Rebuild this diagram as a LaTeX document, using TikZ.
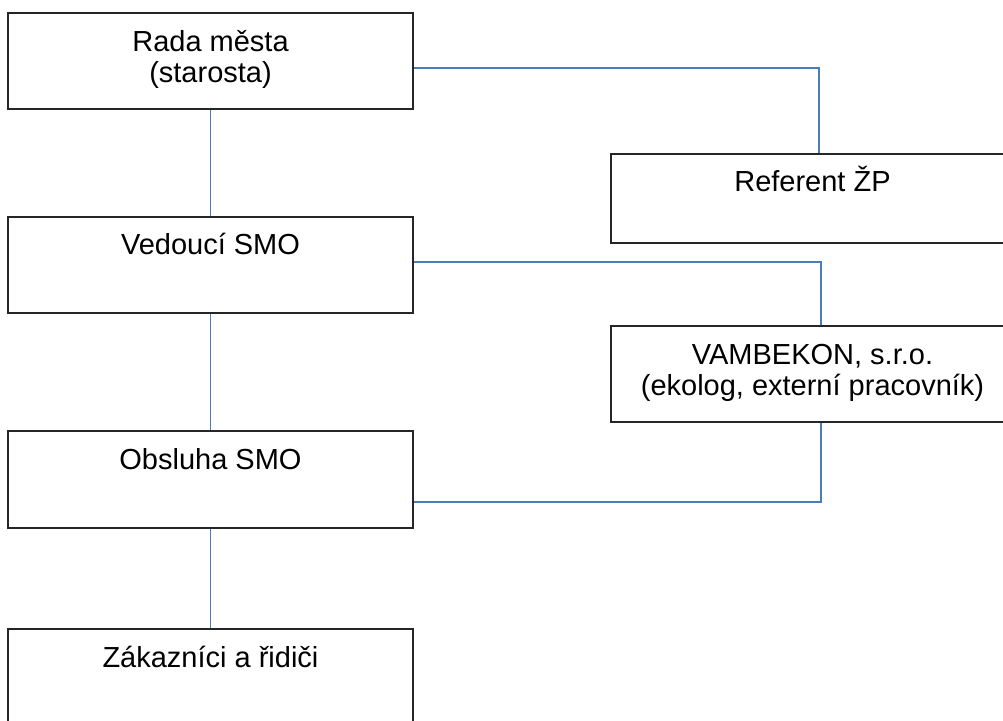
\documentclass[tikz,border=0pt]{standalone}
\usepackage{fontspec}
\setmainfont{Liberation Sans}
\usetikzlibrary{positioning}
\definecolor{linkblue}{RGB}{74,126,187}

\begin{document}
\begin{tikzpicture} [x=1pt, y=-1pt, align=center,
	box/.style={draw=black!85, line width=1.2pt, minimum width=405pt, minimum height=96pt, inner sep=0pt},
	txt/.style={inner sep=0pt, anchor=base, font=\fontsize{29}{31.7}\selectfont},
	conn/.style={draw=linkblue, line width=1.8pt}]
\useasboundingbox (0,0) rectangle (1003,720);

\path (210.5, 61) node[box] (rada) {}
	  (210.5, 265) node[box] (vedouci) {}
	  (210.5, 479.5) node[box, minimum height=97pt] (obsluha) {}
	  (210.5, 677) node[box] (zakaznici) {};

\path (812.5, 198.5) node[box, minimum width=403pt, minimum height=89pt] (referent) {}
	  (812.5, 374) node[box, minimum width=403pt] (vambekon) {};

\path ([yshift=-70.5pt]rada.north) node[txt] (radaT) {Rada města\\(starosta)}
	  ([yshift=-38pt]vedouci.north) node[txt] (vedouciT) {Vedoucí SMO}
	  ([yshift=-39pt]obsluha.north) node[txt] (obsluhaT) {Obsluha SMO}
	  ([yshift=-39pt]zakaznici.north) node[txt] (zakazniciT) {Zákazníci a řidiči}
	  ([yshift=-38pt]referent.north) node[txt] (referentT) {Referent ŽP}
	  ([yshift=-70.5pt]vambekon.north) node[txt] (vambekonT) {VAMBEKON, s.r.o.\\(ekolog, externí pracovník)};

\draw[conn] (rada) -- (vedouci);
\draw[conn] (vedouci) -- (obsluha);
\draw[conn] (obsluha) -- (zakaznici);
\draw[conn] ([yshift=-7pt]rada.east) -| ([xshift=6.5pt]referent.north);
\draw[conn] ([yshift=3pt]vedouci.east) -| ([xshift=8.5pt]vambekon.north);
\draw[conn] ([xshift=8.5pt]vambekon.south) |- ([yshift=-22.5pt]obsluha.east);
\end{tikzpicture}
\end{document}
